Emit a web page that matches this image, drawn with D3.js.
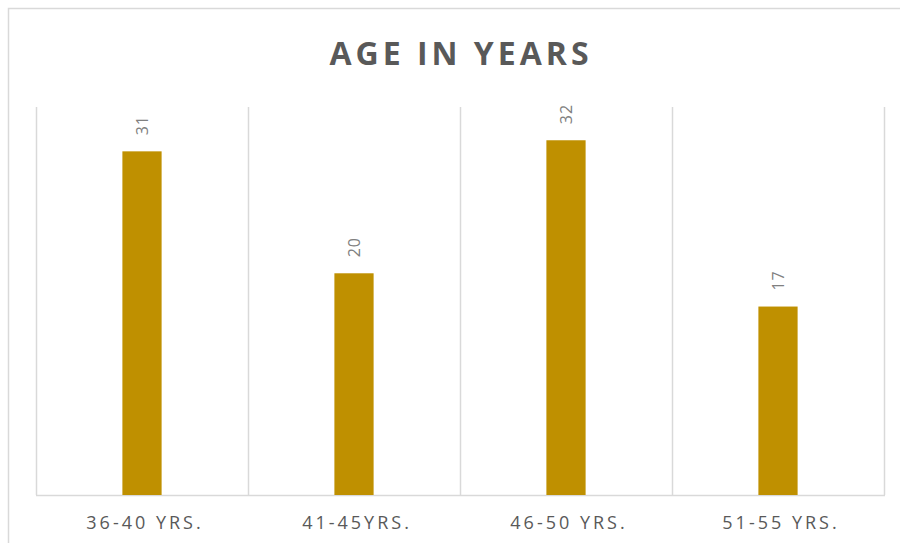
<!DOCTYPE html>
<html>
<head>
<meta charset="utf-8">
<script src="https://cdn.jsdelivr.net/npm/d3@7"></script>
<style>
  html, body { margin: 0; padding: 0; background: #fff; }
  svg { display: block; }
</style>
</head>
<body>
<svg id="chart" width="900" height="543"></svg>
<script>
const categories = ["36-40 YRS.", "41-45YRS.", "46-50 YRS.", "51-55 YRS."];
const values = [31, 20, 32, 17];
const titleText = "AGE IN YEARS";
const yMax = 35;

const svg = d3.select("#chart");
const W = 900, H = 543;
const margin = { left: 36, right: 16, top: 107, bottom: 48 };
const plotW = W - margin.left - margin.right;
const plotH = H - margin.top - margin.bottom;

// outer chart border
svg.append("rect")
  .attr("x", 8.5).attr("y", 8.5)
  .attr("width", W + 10).attr("height", H + 10)
  .attr("fill", "#fff").attr("stroke", "#d9d9d9").attr("stroke-width", 1.5);

const g = svg.append("g").attr("transform", `translate(${margin.left},${margin.top})`);

const x = d3.scaleBand().domain(categories).range([0, plotW]).paddingInner(0).paddingOuter(0);
const y = d3.scaleLinear().domain([0, yMax]).range([plotH, 0]);

// vertical category gridlines
const bounds = categories.map(c => x(c)).concat([plotW]);
g.selectAll(".vgrid").data(bounds).enter().append("line")
  .attr("x1", d => d + 0.5).attr("x2", d => d + 0.5)
  .attr("y1", 0).attr("y2", plotH)
  .attr("stroke", "#d9d9d9").attr("stroke-width", 1.5);

// baseline axis
g.append("line")
  .attr("x1", 0).attr("x2", plotW + 1)
  .attr("y1", y(0) + 0.5).attr("y2", y(0) + 0.5)
  .attr("stroke", "#d9d9d9").attr("stroke-width", 1.5);

// bars
const barW = x.bandwidth() * 0.185;
g.selectAll(".bar").data(values).enter().append("rect")
  .attr("x", (d, i) => x(categories[i]) + x.bandwidth() / 2 - barW / 2)
  .attr("y", d => y(d))
  .attr("width", barW)
  .attr("height", d => y(0) - y(d))
  .attr("fill", "#bf9000");

// data labels rotated
g.selectAll(".lbl").data(values).enter().append("text")
  .attr("transform", (d, i) => `translate(${x(categories[i]) + x.bandwidth() / 2 + 6},${y(d) - 16}) rotate(-90)`)
  .attr("text-anchor", "start")
  .attr("font-family", "'Open Sans', sans-serif")
  .attr("font-size", 16)
  .attr("letter-spacing", 1)
  .attr("fill", "#808080")
  .text(d => d);

// category axis labels
const xAxis = d3.axisBottom(x).tickSize(0).tickPadding(0);
const ax = g.append("g").attr("transform", `translate(0,${plotH})`).call(xAxis);
ax.select(".domain").remove();
ax.selectAll("text")
  .attr("y", 34)
  .attr("dy", 0)
  .attr("dx", 3)
  .attr("font-family", "'Open Sans', sans-serif")
  .attr("font-size", 18)
  .attr("letter-spacing", 3)
  .attr("fill", "#595959");

// title
svg.append("text")
  .attr("x", 461).attr("y", 65)
  .attr("text-anchor", "middle")
  .attr("font-family", "'Open Sans', sans-serif")
  .attr("font-weight", "bold")
  .attr("font-size", 32)
  .attr("letter-spacing", 4)
  .attr("fill", "#595959")
  .text(titleText);
</script>
</body>
</html>
